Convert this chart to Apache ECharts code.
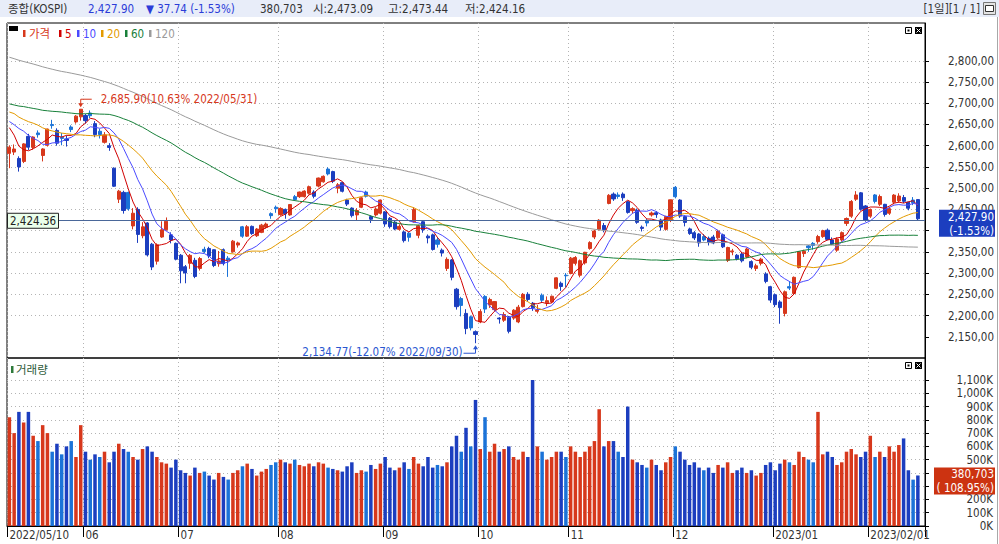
<!DOCTYPE html>
<html>
<head>
<meta charset="utf-8">
<title>종합(KOSPI)</title>
<script src="https://cdn.jsdelivr.net/npm/echarts@6/dist/echarts.min.js"></script>
<style>
  html, body { margin: 0; padding: 0; background: #fff; }
  #chart { width: 999px; height: 544px; }
</style>
</head>
<body>
<div id="chart"></div>
<script>
// 거래일 (2022/05/10 ~ 2023/02/15)
var dates = [
  '2022/05/10','2022/05/11','2022/05/12','2022/05/13','2022/05/16','2022/05/17','2022/05/18','2022/05/19','2022/05/20','2022/05/23','2022/05/24','2022/05/25','2022/05/26','2022/05/27','2022/05/30','2022/05/31',
  '2022/06/02','2022/06/03','2022/06/07','2022/06/08','2022/06/09','2022/06/10','2022/06/13','2022/06/14','2022/06/15','2022/06/16','2022/06/17','2022/06/20','2022/06/21','2022/06/22','2022/06/23','2022/06/24','2022/06/27','2022/06/28','2022/06/29','2022/06/30',
  '2022/07/01','2022/07/04','2022/07/05','2022/07/06','2022/07/07','2022/07/08','2022/07/11','2022/07/12','2022/07/13','2022/07/14','2022/07/15','2022/07/18','2022/07/19','2022/07/20','2022/07/21','2022/07/22','2022/07/25','2022/07/26','2022/07/27','2022/07/28','2022/07/29',
  '2022/08/01','2022/08/02','2022/08/03','2022/08/04','2022/08/05','2022/08/08','2022/08/09','2022/08/10','2022/08/11','2022/08/12','2022/08/16','2022/08/17','2022/08/18','2022/08/19','2022/08/22','2022/08/23','2022/08/24','2022/08/25','2022/08/26','2022/08/29','2022/08/30','2022/08/31',
  '2022/09/01','2022/09/02','2022/09/05','2022/09/06','2022/09/07','2022/09/08','2022/09/13','2022/09/14','2022/09/15','2022/09/16','2022/09/19','2022/09/20','2022/09/21','2022/09/22','2022/09/23','2022/09/26','2022/09/27','2022/09/28','2022/09/29','2022/09/30',
  '2022/10/04','2022/10/05','2022/10/06','2022/10/07','2022/10/11','2022/10/12','2022/10/13','2022/10/14','2022/10/17','2022/10/18','2022/10/19','2022/10/20','2022/10/21','2022/10/24','2022/10/25','2022/10/26','2022/10/27','2022/10/28','2022/10/31',
  '2022/11/01','2022/11/02','2022/11/03','2022/11/04','2022/11/07','2022/11/08','2022/11/09','2022/11/10','2022/11/11','2022/11/14','2022/11/15','2022/11/16','2022/11/17','2022/11/18','2022/11/21','2022/11/22','2022/11/23','2022/11/24','2022/11/25','2022/11/28','2022/11/29','2022/11/30',
  '2022/12/01','2022/12/02','2022/12/05','2022/12/06','2022/12/07','2022/12/08','2022/12/09','2022/12/12','2022/12/13','2022/12/14','2022/12/15','2022/12/16','2022/12/19','2022/12/20','2022/12/21','2022/12/22','2022/12/23','2022/12/26','2022/12/27','2022/12/28','2022/12/29',
  '2023/01/02','2023/01/03','2023/01/04','2023/01/05','2023/01/06','2023/01/09','2023/01/10','2023/01/11','2023/01/12','2023/01/13','2023/01/16','2023/01/17','2023/01/18','2023/01/19','2023/01/20','2023/01/25','2023/01/26','2023/01/27','2023/01/30','2023/01/31',
  '2023/02/01','2023/02/02','2023/02/03','2023/02/06','2023/02/07','2023/02/08','2023/02/09','2023/02/10','2023/02/13','2023/02/14','2023/02/15'
];
var opens = [
  2582,2585,2570,2563,2622,2596,2630,2577,2601,2650,2636,2620,2616,2644,2656,2668,
  2671,2677,2652,2634,2608,2600,2547,2474,2490,2490,2411,2450,2388,2418,2368,2328,2385,2402,2390,2370,
  2342,2315,2323,2330,2311,2356,2358,2355,2322,2355,2335,2350,2366,2409,2387,2410,2388,2396,2408,2440,2455,
  2438,2450,2437,2480,2480,2480,2488,2491,2505,2515,2545,2539,2500,2513,2472,2453,2437,2455,2491,2433,2437,2441,
  2444,2429,2420,2403,2397,2394,2421,2389,2421,2387,2390,2378,2354,2311,2331,2262,2240,2205,2197,2162,
  2185,2245,2225,2214,2194,2189,2197,2194,2185,2221,2250,2229,2210,2248,2230,2232,2264,2276,2295,
  2299,2323,2295,2324,2358,2385,2403,2412,2464,2486,2484,2486,2468,2447,2448,2408,2424,2437,2442,2425,2403,2426,
  2502,2472,2433,2404,2395,2392,2386,2382,2385,2383,2390,2330,2350,2342,2345,2338,2327,2311,2323,2298,2268,
  2249,2232,2205,2268,2252,2313,2346,2364,2370,2374,2386,2401,2378,2354,2378,2417,2434,2474,2489,2458,
  2434,2484,2462,2462,2441,2467,2470,2478,2467,2472,2473.09
];
var highs = [
  2601,2603,2575,2606,2628,2622,2636,2594,2640,2661,2641,2630,2624,2648,2672,2685.90,
  2675,2683,2658,2640,2632,2606,2549,2496,2494,2492,2453,2455,2420,2420,2371,2370,2422,2431,2396,2372,
  2345,2319,2345,2336,2338,2362,2362,2356,2352,2358,2340,2378,2374,2411,2413,2412,2406,2416,2419,2443,2459,
  2455,2452,2462,2484,2492,2495,2506,2495,2525,2530,2549,2541,2512,2515,2475,2455,2453,2479,2494,2436,2455,2473,
  2446,2432,2424,2415,2400,2397,2455,2414,2424,2391,2393,2385,2358,2337,2333,2265,2244,2215,2200,2165,
  2215,2248,2242,2234,2196,2208,2199,2215,2225,2253,2255,2232,2225,2252,2245,2247,2290,2280,2300,
  2338,2340,2332,2350,2375,2402,2427,2418,2486,2490,2490,2490,2470,2455,2452,2412,2428,2445,2446,2428,2435,2473,
  2505,2474,2436,2407,2399,2394,2392,2386,2390,2402,2393,2362,2357,2345,2350,2360,2330,2322,2336,2302,2270,
  2252,2236,2259,2281,2292,2352,2355,2366,2373,2390,2402,2405,2384,2384,2398,2431,2472,2493,2491,2460,
  2452,2486,2485,2463,2456,2486,2488,2484,2468,2479,2473.44
];
var lows = [
  2547,2578,2539,2559,2590,2591,2619,2563,2598,2640,2600,2601,2598,2632,2652,2659,
  2652,2665,2620,2617,2605,2588,2503,2465,2440,2447,2403,2371,2382,2339,2307,2320,2383,2400,2370,2330,
  2276,2276,2310,2288,2306,2347,2335,2314,2315,2318,2291,2348,2360,2383,2385,2390,2385,2394,2405,2428,2442,
  2435,2428,2435,2470,2477,2478,2485,2476,2502,2513,2530,2512,2488,2490,2458,2431,2425,2453,2478,2418,2433,2438,
  2409,2405,2401,2400,2372,2374,2419,2382,2395,2370,2353,2360,2339,2305,2283,2214,2198,2156,2165,2134.77,
  2182,2206,2218,2210,2181,2185,2158,2190,2182,2219,2233,2211,2205,2230,2222,2229,2262,2258,2266,
  2297,2318,2290,2320,2355,2380,2400,2396,2462,2470,2475,2470,2440,2440,2416,2398,2410,2433,2430,2400,2400,2420,
  2476,2430,2410,2390,2378,2362,2375,2365,2368,2380,2359,2326,2342,2330,2325,2335,2309,2305,2318,2276,2230,
  2220,2180.67,2198,2260,2249,2311,2338,2350,2355,2369,2383,2377,2366,2350,2374,2411,2430,2470,2447,2421,
  2430,2464,2458,2433,2437,2462,2466,2465,2448,2460,2424.16
];
var closes = [
  2596.56,2592.27,2550.08,2604.24,2596.58,2620.44,2625.98,2592.34,2639.29,2647.38,2605.87,2617.22,2612.45,2638.05,2669.66,2685.90,
  2658.99,2670.65,2626.15,2626.34,2625.44,2595.87,2504.51,2492.97,2447.38,2451.41,2440.93,2391.03,2408.93,2342.81,2314.32,2366.60,2401.92,2422.09,2377.99,2332.64,
  2305.42,2300.34,2341.78,2292.01,2334.27,2350.61,2340.27,2317.76,2328.61,2322.32,2330.98,2375.25,2370.97,2386.85,2409.10,2393.14,2403.69,2412.94,2415.53,2435.27,2451.50,
  2452.25,2439.62,2461.45,2473.11,2490.80,2493.10,2503.46,2480.88,2523.78,2527.94,2533.52,2516.47,2508.05,2492.69,2462.50,2435.34,2447.45,2477.26,2481.03,2426.89,2450.93,2472.05,
  2415.61,2409.41,2403.68,2410.02,2376.46,2384.28,2449.54,2411.42,2401.83,2382.78,2355.66,2367.85,2347.21,2332.31,2290.00,2220.94,2223.86,2169.29,2170.93,2155.49,
  2209.38,2215.22,2237.86,2232.84,2192.07,2202.47,2162.87,2212.55,2219.71,2249.95,2237.86,2218.09,2213.12,2236.16,2235.07,2245.44,2288.78,2268.40,2293.61,
  2335.22,2336.56,2329.17,2348.97,2371.79,2399.04,2424.41,2402.12,2483.16,2474.65,2480.33,2477.45,2442.90,2451.74,2419.50,2405.27,2418.01,2441.33,2437.86,2408.27,2433.39,2472.53,
  2479.84,2434.33,2419.32,2393.16,2382.81,2371.08,2378.00,2372.60,2371.00,2399.00,2361.82,2360.32,2352.17,2333.64,2328.95,2356.73,2313.69,2317.14,2332.79,2280.45,2236.40,
  2225.67,2218.68,2255.98,2264.65,2289.97,2350.19,2351.31,2359.88,2365.10,2386.09,2399.86,2379.39,2368.32,2380.34,2395.26,2428.57,2468.65,2484.02,2450.47,2425.08,
  2449.80,2468.88,2480.40,2438.19,2451.71,2483.64,2481.52,2469.07,2452.70,2465.64,2427.90
];
// 거래량 (천주)
var volumes = [
  820000,700000,860000,780000,860000,680000,640000,760000,700000,560000,620000,540000,600000,640000,520000,760000,
  560000,500000,540000,520000,560000,480000,560000,620000,580000,560000,520000,500000,580000,600000,560000,520000,480000,470000,440000,500000,
  420000,400000,380000,440000,400000,410000,380000,350000,400000,370000,350000,400000,420000,450000,470000,430000,380000,410000,430000,460000,480000,
  500000,480000,470000,500000,460000,450000,470000,450000,480000,470000,440000,430000,420000,410000,450000,480000,400000,420000,410000,460000,430000,470000,
  520000,440000,420000,440000,480000,430000,520000,470000,450000,520000,440000,460000,450000,480000,600000,680000,560000,740000,600000,950000,
  580000,820000,560000,620000,560000,580000,600000,520000,500000,560000,520000,1100000,600000,560000,500000,520000,560000,560000,520000,
  600000,560000,520000,560000,600000,640000,880000,600000,640000,640000,560000,520000,900000,500000,480000,460000,440000,500000,460000,420000,480000,520000,
  600000,560000,500000,460000,480000,440000,420000,440000,400000,460000,440000,480000,400000,420000,440000,400000,420000,380000,400000,460000,480000,
  420000,470000,500000,480000,460000,560000,520000,500000,480000,860000,540000,560000,520000,460000,480000,560000,580000,540000,520000,560000,
  680000,520000,560000,520000,600000,560000,610000,660000,420000,349430,380703
];
// 이동평균 계산용 이전 종가 (2021/11/15 ~ 2022/05/09)
var priorCloses = [
  2999.52,2997.33,2962.42,2947.38,2971.02,3013.25,2997.33,2994.29,2980.27,2936.44,2909.32,2839.01,
  2899.72,2945.27,2968.33,2973.25,2991.72,3001.80,3029.57,3010.23,3001.66,2987.95,2989.39,3006.41,3017.73,2963.00,2975.03,2984.48,2998.17,3012.43,2999.55,3020.24,2993.29,2977.65,
  2988.77,2989.24,2953.97,2920.53,2954.89,2926.72,2927.38,2972.48,2962.09,2921.92,2890.10,2864.24,2842.28,2862.68,2834.29,2792.00,2720.39,2709.24,2614.49,2663.34,
  2707.82,2750.26,2745.06,2746.47,2768.85,2771.93,2747.71,2704.48,2676.54,2729.68,2744.52,2744.09,2743.80,2706.79,2719.53,2648.80,2676.76,2699.18,
  2703.52,2747.08,2713.43,2651.31,2622.40,2680.32,2661.28,2645.65,2621.53,2659.23,2694.51,2707.64,2686.05,2735.36,2736.89,2729.66,2729.98,2729.56,2741.07,2746.74,2757.65,
  2739.85,2757.90,2759.20,2735.04,2695.86,2700.39,2693.10,2666.76,2716.49,2716.71,2696.06,2693.21,2718.69,2718.89,2728.21,2704.71,2657.13,2668.31,2639.06,2667.49,2695.05,
  2687.45,2680.46,2680.32,2644.51,2610.81
];
var maPeriods = [5, 10, 20, 60, 120];
var maColors = ['#d00000', '#4a4aff', '#e39a00', '#18803a', '#9a9a9a'];
var priceTicks = [2150, 2200, 2250, 2300, 2350, 2400, 2450, 2500, 2550, 2600, 2650, 2700, 2750, 2800];
var priceLabels = [2150, 2200, 2250, 2300, 2350, 2450, 2500, 2550, 2600, 2650, 2700, 2750, 2800];
var volumeTicks = [0, 100000, 200000, 300000, 400000, 500000, 600000, 700000, 800000, 900000, 1000000, 1100000];
var volumeLabels = [0, 100000, 200000, 500000, 600000, 700000, 800000, 900000, 1000000, 1100000];
var monthLabels = ['2022/05/10', '06', '07', '08', '09', '10', '11', '12', '2023/01', '2023/02/01'];
var hlineValue = 2424.36;

var RED = '#d7381c', DARK = '#1c3ebf', LIGHT = '#1b73d8';
var FONT = "'DejaVu Sans Condensed','Noto Sans CJK KR',sans-serif";
var FS = 11.5;

function fmt(v, d) {
    return v.toLocaleString('en-US', { minimumFractionDigits: d, maximumFractionDigits: d });
}

// 캔들 색: 양봉 빨강, 음봉 파랑 (전일대비 상승한 음봉은 밝은 파랑)
function candleColor(i) {
    var prev = i > 0 ? closes[i - 1] : priorCloses[priorCloses.length - 1];
    if (closes[i] >= opens[i]) return RED;
    return closes[i] > prev ? LIGHT : DARK;
}

var allCloses = priorCloses.concat(closes);
function movingAvg(n) {
    var off = priorCloses.length, out = [];
    for (var i = 0; i < closes.length; i++) {
        var s = 0;
        for (var k = off + i - n + 1; k <= off + i; k++) s += allCloses[k];
        out.push(+(s / n).toFixed(2));
    }
    return out;
}

// 월 시작 인덱스
var monthStart = {};
var mi = 0;
for (var i = 0; i < dates.length; i++) {
    if (i === 0 || dates[i].slice(0, 7) !== dates[i - 1].slice(0, 7)) monthStart[i] = monthLabels[mi++];
}
function isMonth(i) { return monthStart.hasOwnProperty(i); }
var cats = dates.concat(['']);

var candleData = dates.map(function (d, i) {
    var c = candleColor(i);
    return { value: [opens[i], closes[i], lows[i], highs[i]], itemStyle: { color: c, color0: c, borderColor: c, borderColor0: c } };
});
var volumeData = volumes.map(function (v, i) {
    return { value: v, itemStyle: { color: candleColor(i) } };
});

// 가로 점선: 최소값/범위 밖 선은 투명
var priceSplitColors = ['rgba(0,0,0,0)'];
for (var p = 2150; p <= 2800; p += 50) priceSplitColors.push('#b4b4b4');
priceSplitColors.push('rgba(0,0,0,0)', 'rgba(0,0,0,0)');
var volSplitColors = ['rgba(0,0,0,0)'];
for (var q = 1; q <= 11; q++) volSplitColors.push('#b4b4b4');
volSplitColors.push('rgba(0,0,0,0)', 'rgba(0,0,0,0)');

var series = [{
    type: 'candlestick',
    xAxisIndex: 0, yAxisIndex: 0,
    barWidth: 3.6,
    data: candleData,
    itemStyle: { color: RED, color0: DARK, borderColor: RED, borderColor0: DARK, borderWidth: 1 },
    markLine: {
        silent: true,
        symbol: ['none', 'none'],
        label: { show: false },
        lineStyle: { color: '#4a6799', width: 1.2, type: 'solid' },
        data: [{ yAxis: hlineValue }]
    }
}];
maPeriods.forEach(function (n, k) {
    series.push({
        type: 'line', xAxisIndex: 0, yAxisIndex: 0,
        data: movingAvg(n), showSymbol: false, symbol: 'none',
        lineStyle: { color: maColors[k], width: 1 }
    });
});
series.push({
    type: 'bar', xAxisIndex: 1, yAxisIndex: 1,
    barWidth: 3.5,
    data: volumeData
});

var chart = echarts.init(document.getElementById('chart'), null, { renderer: 'svg' });
chart.setOption({
    animation: false,
    textStyle: { fontFamily: FONT },
    grid: [
        { left: 7, right: 74, top: 23, height: 335, show: true, borderColor: '#000', borderWidth: 1 },
        { left: 7, right: 74, top: 358, height: 168, show: true, borderColor: '#000', borderWidth: 1 }
    ],
    xAxis: [{
        type: 'category', gridIndex: 0, data: cats, boundaryGap: true,
        axisLine: { show: false }, axisTick: { show: false }, axisLabel: { show: false },
        splitLine: { show: true, interval: isMonth, lineStyle: { color: '#b4b4b4', type: [1, 3] } }
    }, {
        type: 'category', gridIndex: 1, data: cats, boundaryGap: true,
        axisLine: { show: true, lineStyle: { color: '#000' } },
        axisTick: { show: true, length: 11, interval: isMonth, lineStyle: { color: '#000' } },
        axisLabel: {
            show: true, interval: isMonth, align: 'left', margin: 3, color: '#333', fontSize: FS, fontFamily: FONT,
            formatter: function (v, i) { return monthStart[i] || ''; }
        },
        splitLine: { show: true, interval: isMonth, lineStyle: { color: '#b4b4b4', type: [1, 3] } }
    }],
    yAxis: [{
        type: 'value', gridIndex: 0, position: 'right', min: 2100, max: 2889, interval: 50, scale: true,
        axisLine: { show: true, lineStyle: { color: '#000' } },
        axisTick: { show: true, length: 4, customValues: priceTicks, lineStyle: { color: '#000' } },
        axisLabel: {
            customValues: priceLabels, margin: 69, align: 'right', color: '#333', fontSize: FS, fontFamily: FONT,
            showMinLabel: true, showMaxLabel: true, hideOverlap: false,
            formatter: function (v) { return fmt(v, 2).replace('.', ','); }
        },
        splitLine: { show: true, lineStyle: { color: priceSplitColors, type: [1, 3] } }
    }, {
        type: 'value', gridIndex: 1, position: 'right', min: 0, max: 1266000, interval: 100000,
        axisLine: { show: true, lineStyle: { color: '#000' } },
        axisTick: { show: true, length: 4, customValues: volumeTicks, lineStyle: { color: '#000' } },
        axisLabel: {
            customValues: volumeLabels, margin: 68, align: 'right', color: '#333', fontSize: FS, fontFamily: FONT,
            lineHeight: 12, showMinLabel: true, showMaxLabel: true, hideOverlap: false,
            formatter: function (v) { return fmt(v / 1000, 0) + 'K'; }
        },
        splitLine: { show: true, lineStyle: { color: volSplitColors, type: [1, 3] } }
    }],
    series: series
});

// ---- 부가 표시 (헤더, 범례, 최고/최저 표시, 현재가 박스) ----
function txt(x, y, s, color, align, size) {
    return {
        type: 'text', x: x, y: y, silent: true, z: 100,
        style: { text: s, fill: color, fontSize: size || FS, fontFamily: FONT, align: align || 'left', verticalAlign: 'middle' }
    };
}
function rect(x, y, w, h, fill, stroke) {
    return { type: 'rect', silent: true, z: 90, shape: { x: x, y: y, width: w, height: h }, style: { fill: fill, stroke: stroke || null, lineWidth: 1 } };
}

var n = closes.length;
var last = closes[n - 1], prev = closes[n - 2];
var chg = last - prev, chgPct = chg / prev * 100;
var volPct = volumes[n - 1] / volumes[n - 2] * 100;

var hiIdx = 0, loIdx = 0;
for (var j = 1; j < n; j++) {
    if (highs[j] > highs[hiIdx]) hiIdx = j;
    if (lows[j] < lows[loIdx]) loIdx = j;
}
var hiPt = chart.convertToPixel({ gridIndex: 0 }, [hiIdx, highs[hiIdx]]);
var loPt = chart.convertToPixel({ gridIndex: 0 }, [loIdx, lows[loIdx]]);
var lastPt = chart.convertToPixel({ gridIndex: 0 }, [n - 1, last]);
var volPt = chart.convertToPixel({ gridIndex: 1 }, [n - 1, volumes[n - 1]]);
var hlPt = chart.convertToPixel({ gridIndex: 0 }, [0, hlineValue]);

var g = [];
// 헤더
g.push(rect(0, 0, 999, 17, '#e8edf9'));
g.push(txt(8, 8.5, '종합(KOSPI)', '#333'));
g.push(txt(88, 8.5, fmt(last, 2), '#2b3cd8'));
g.push(txt(146, 8.5, (chg < 0 ? '▼ ' : '▲ ') + fmt(Math.abs(chg), 2) + ' (' + fmt(chgPct, 2) + '%)', '#2b3cd8'));
g.push(txt(260, 8.5, fmt(volumes[n - 1], 0), '#333'));
g.push(txt(313, 8.5, '시:' + fmt(opens[n - 1], 2), '#333'));
g.push(txt(388, 8.5, '고:' + fmt(highs[n - 1], 2), '#333'));
g.push(txt(465, 8.5, '저:' + fmt(lows[n - 1], 2), '#333'));
g.push(txt(980, 8.5, '[1일][1 / 1]', '#333', 'right'));
g.push(rect(983.5, 2.5, 12, 12, '#e4e4e4', '#777'));
g.push(rect(985.5, 5.5, 8, 6, '#fff', '#333'));
g.push({ type: 'line', silent: true, z: 90, shape: { x1: 997.5, y1: 17, x2: 997.5, y2: 544 }, style: { stroke: '#a8a8a8', lineWidth: 1 } });

// 범례 (가격 패널)
g.push(rect(9, 26, 9, 5, '#000'));
var legend = [['가격', RED, 23], ['5', maColors[0], 59], ['10', maColors[1], 77], ['20', maColors[2], 101], ['60', maColors[3], 125], ['120', maColors[4], 149]];
legend.forEach(function (it) {
    g.push(rect(it[2], 30, 2.5, 7, it[1]));
    g.push(txt(it[2] + 6, 33.5, it[0], it[1], 'left', FS));
});
// 범례 (거래량 패널)
g.push(rect(11, 366, 2.5, 7, '#2e7a3a'));
g.push(txt(16, 369.5, '거래량', '#2e5a3a', 'left', FS));

// 패널 우상단 아이콘
[27, 362].forEach(function (y) {
    g.push(rect(905.5, y + 0.5, 6, 6, '#fff', '#000'));
    g.push(rect(907.5, y + 2.5, 2, 2, '#000'));
    g.push(rect(915, y, 7, 7, '#000'));
    g.push({ type: 'polyline', silent: true, z: 95, shape: { points: [[916.5, y + 1.5], [920.5, y + 5.5]] }, style: { stroke: '#fff', lineWidth: 1 } });
    g.push({ type: 'polyline', silent: true, z: 95, shape: { points: [[920.5, y + 1.5], [916.5, y + 5.5]] }, style: { stroke: '#fff', lineWidth: 1 } });
});

// 최고가 표시
g.push({ type: 'polyline', silent: true, z: 95, shape: { points: [[hiPt[0], hiPt[1] - 4], [hiPt[0], hiPt[1] - 10], [hiPt[0] + 11, hiPt[1] - 10]] }, style: { stroke: '#d7381c', lineWidth: 1, fill: null } });
g.push({ type: 'polygon', silent: true, z: 95, shape: { points: [[hiPt[0] - 2.5, hiPt[1] - 6], [hiPt[0] + 2.5, hiPt[1] - 6], [hiPt[0], hiPt[1] - 2]] }, style: { fill: '#d7381c' } });
g.push(txt(hiPt[0] + 20, hiPt[1] - 10, fmt(highs[hiIdx], 2) + '(' + fmt((highs[hiIdx] / last - 1) * 100, 2) + '% ' + dates[hiIdx] + ')', '#d7381c'));
// 최저가 표시
g.push({ type: 'polyline', silent: true, z: 95, shape: { points: [[loPt[0], loPt[1] + 4], [loPt[0], loPt[1] + 10], [loPt[0] - 12, loPt[1] + 10]] }, style: { stroke: '#2a56d0', lineWidth: 1, fill: null } });
g.push({ type: 'polygon', silent: true, z: 95, shape: { points: [[loPt[0] - 2.5, loPt[1] + 6], [loPt[0] + 2.5, loPt[1] + 6], [loPt[0], loPt[1] + 2]] }, style: { fill: '#2a56d0' } });
g.push(txt(loPt[0] - 13, loPt[1] + 9, fmt(lows[loIdx], 2) + '(' + fmt((lows[loIdx] / last - 1) * 100, 2) + '% ' + dates[loIdx] + ')', '#2a56d0', 'right'));

// 수평선 값 라벨
g.push(rect(7.5, hlPt[1] - 7, 51, 15, '#ebffeb', '#222'));
g.push(txt(10, hlPt[1] + 0.5, fmt(hlineValue, 2), '#222'));

// 현재가 / 거래량 박스
g.push(rect(939, lastPt[1] - 9, 56, 27, DARK));
g.push(txt(994, lastPt[1] - 2, fmt(last, 2), '#fff', 'right'));
g.push(txt(994, lastPt[1] + 12, '(' + fmt(chgPct, 2) + '%)', '#fff', 'right'));
g.push(rect(934, volPt[1] - 8, 61, 27, '#cc3311'));
g.push(txt(994, volPt[1] - 1, fmt(volumes[n - 1], 0), '#fff', 'right'));
g.push(txt(994, volPt[1] + 13, '( ' + fmt(volPct, 2) + '%)', '#fff', 'right'));

chart.setOption({ graphic: g });
</script>
</body>
</html>
